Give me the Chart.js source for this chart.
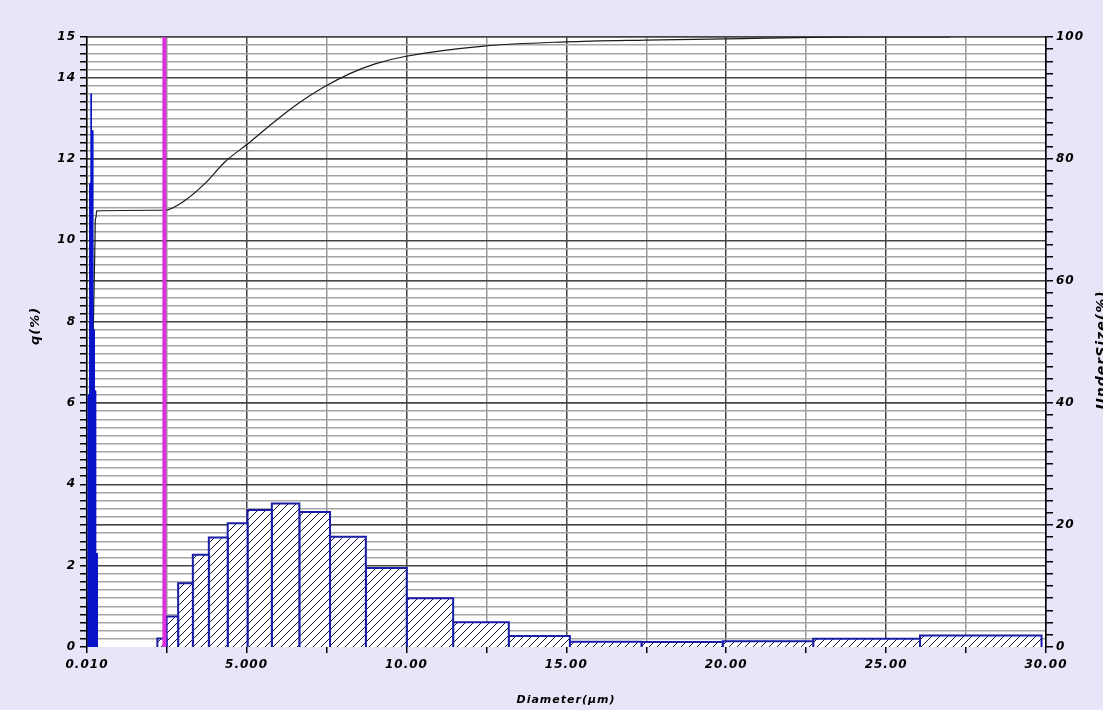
<!DOCTYPE html>
<html>
<head>
<meta charset="utf-8">
<script src="https://cdn.jsdelivr.net/npm/chart.js@4.4.1/dist/chart.umd.min.js"></script>
<style>
  html, body { margin: 0; padding: 0; background: #e6e6f8; }
  canvas { display: block; }
</style>
</head>
<body>
<canvas id="psdChart" width="1103" height="710"></canvas>
<script>
// histogram bins: edges in µm and q(%) per bin
var binEdges = [2.21, 2.50, 2.86, 3.32, 3.82, 4.41, 5.03, 5.79, 6.65, 7.61, 8.73, 10.01, 11.46, 13.20, 15.11, 17.35, 19.89, 22.72, 26.06, 29.86];
var binQ = [0.21, 0.75, 1.57, 2.27, 2.69, 3.04, 3.37, 3.53, 3.32, 2.71, 1.94, 1.20, 0.61, 0.27, 0.13, 0.12, 0.14, 0.20, 0.28];

// fine peak close to the left edge
var fineEdges = [0.04, 0.09, 0.13, 0.15, 0.19, 0.24, 0.28, 0.33];
var fineQ = [6.2, 11.4, 13.6, 12.7, 7.8, 6.3, 2.3];

// cumulative undersize curve
var cumDiameter = [0.01, 0.26, 0.27, 0.29, 0.31, 2.43, 3.07, 3.70, 4.32, 5.11, 5.89, 6.67, 7.42, 8.23, 9.02, 9.95, 12.42, 14.96, 17.46, 19.96, 24.4, 27.0];
var cumUnder = [0, 66.7, 70.0, 70.4, 71.5, 71.6, 73.2, 76.0, 79.5, 82.8, 86.2, 89.3, 91.8, 94.0, 95.6, 96.8, 98.5, 99.2, 99.5, 99.7, 100, 100];

// cursor position (µm)
var cursorDiameter = 2.43;

var xTicks = [0.01, 2.5, 5, 7.5, 10, 12.5, 15, 17.5, 20, 22.5, 25, 27.5, 30];
var qLabels = [0, 2, 4, 6, 8, 10, 12, 14, 15];
var underLabels = [0, 20, 40, 60, 80, 100];

Chart.defaults.font.family = '"DejaVu Sans", sans-serif';
Chart.defaults.font.size = 12;
Chart.defaults.font.style = 'italic';
Chart.defaults.font.weight = 'bold';
Chart.defaults.color = '#000';

// diagonal hatch for the bins
var hatch = document.createElement('canvas');
hatch.width = 8;
hatch.height = 8;
var hc = hatch.getContext('2d');
hc.fillStyle = '#fff';
hc.fillRect(0, 0, 8, 8);
hc.strokeStyle = '#15153c';
hc.lineWidth = 1;
hc.beginPath();
hc.moveTo(0, 8); hc.lineTo(8, 0);
hc.moveTo(-1, 1); hc.lineTo(1, -1);
hc.moveTo(7, 9); hc.lineTo(9, 7);
hc.stroke();
var ctx = document.getElementById('psdChart').getContext('2d');
var hatchFill = ctx.createPattern(hatch, 'repeat');

function rect(x0, x1, h) {
    return [{x: x0, y: 0}, {x: x0, y: h}, {x: x1, y: h}, {x: x1, y: 0}];
}

var datasets = [];
datasets.push({
    data: [{x: cursorDiameter, y: 0}, {x: cursorDiameter, y: 15}],
    borderColor: '#dc30dc', borderWidth: 4, order: 0
});
fineQ.forEach(function (q, i) {
    datasets.push({
        data: rect(fineEdges[i], fineEdges[i + 1], q),
        borderColor: '#0a14c8', backgroundColor: '#0a14c8',
        borderWidth: 1, fill: 'origin', order: 1
    });
});
datasets.push({
    data: cumDiameter.map(function (d, i) { return {x: d, y: cumUnder[i]}; }),
    yAxisID: 'y2', borderColor: '#1a1a1a', borderWidth: 1.2,
    cubicInterpolationMode: 'monotone', order: 2
});
binQ.forEach(function (q, i) {
    datasets.push({
        data: rect(binEdges[i], binEdges[i + 1], q),
        borderColor: '#1a1ea6', backgroundColor: hatchFill,
        borderWidth: 2, fill: 'origin', order: 3
    });
});

function isNear(list, v) {
    return list.some(function (l) { return Math.abs(l - v) < 1e-6; });
}

function fmtDiameter(v) {
    if (Math.abs(v - 0.01) < 1e-9) return '0.010';
    if (v % 5 !== 0) return '';
    return v < 10 ? v.toFixed(3) : v.toFixed(2);
}

// white plot area and letter spacing for the labels
var plotBack = {
    id: 'plotBack',
    beforeLayout: function (chart) { chart.ctx.letterSpacing = '1px'; },
    beforeDraw: function (chart) {
        var a = chart.chartArea, c = chart.ctx;
        c.letterSpacing = '1px';
        c.save();
        c.fillStyle = '#fff';
        c.fillRect(a.left, a.top, a.right - a.left, a.bottom - a.top);
        c.restore();
    }
};

// axis titles
var axisTitles = {
    id: 'axisTitles',
    afterDraw: function (chart) {
        var c = chart.ctx;
        c.save();
        c.fillStyle = '#000';
        c.textAlign = 'center';
        c.textBaseline = 'middle';
        c.font = 'italic bold 13px "DejaVu Sans"';
        c.save();
        c.translate(36, 326);
        c.rotate(-Math.PI / 2);
        c.fillText('q(%)', 0, 0);
        c.restore();
        c.font = 'italic bold 11px "DejaVu Sans"';
        c.fillText('Diameter(μm)', 566, 700);
        c.font = 'italic bold 14px "DejaVu Sans"';
        c.translate(1102, 350);
        c.rotate(-Math.PI / 2);
        c.fillText('UnderSize(%)', 0, 0);
        c.restore();
    }
};

var psdChart = new Chart(ctx, {
    type: 'scatter',
    data: { datasets: datasets },
    plugins: [plotBack, axisTitles],
    options: {
        responsive: false,
        animation: false,
        showLine: true,
        layout: { padding: { top: 37, left: 0, right: 0, bottom: 0 } },
        elements: { point: { radius: 0, hoverRadius: 0 }, line: { tension: 0 } },
        plugins: { legend: { display: false }, tooltip: { enabled: false } },
        scales: {
            x: {
                type: 'linear', min: 0.01, max: 30,
                afterBuildTicks: function (s) { s.ticks = xTicks.map(function (v) { return {value: v}; }); },
                afterFit: function (s) { s.height = 63; },
                ticks: { autoSkip: false, maxRotation: 0, padding: 5, callback: fmtDiameter },
                grid: {
                    color: function (c) { return c.tick && c.tick.value % 5 === 0 ? '#454545' : '#9a9a9a'; },
                    lineWidth: 1.5, tickLength: 6, tickColor: '#000'
                },
                border: { display: false }
            },
            y: {
                position: 'left', min: 0, max: 15,
                afterFit: function (s) { s.width = 87; },
                ticks: {
                    stepSize: 0.2, autoSkip: false, padding: 4,
                    callback: function (v) { return isNear(qLabels, v) ? String(Math.round(v)) : ''; }
                },
                grid: {
                    color: function (c) {
                        if (!c.tick || c.tick.value === 0) return 'rgba(0,0,0,0)';
                        return isNear(qLabels, c.tick.value) ? '#454545' : '#a4a4a4';
                    },
                    lineWidth: 1.5, tickLength: 7, tickColor: '#000'
                },
                border: { color: '#000', width: 1.5 }
            },
            y2: {
                position: 'right', min: 0, max: 100,
                afterFit: function (s) { s.width = 57; },
                ticks: {
                    stepSize: 2, autoSkip: false, padding: 3,
                    callback: function (v) { return isNear(underLabels, v) ? String(Math.round(v)) : ''; }
                },
                grid: {
                    color: function (c) {
                        if (!c.tick || c.tick.value === 0) return 'rgba(0,0,0,0)';
                        return isNear(underLabels, c.tick.value) ? '#454545' : 'rgba(0,0,0,0)';
                    },
                    tickColor: '#000', lineWidth: 1.5, tickLength: 7
                },
                border: { color: '#000', width: 1.5 }
            }
        }
    }
});
</script>
</body>
</html>
